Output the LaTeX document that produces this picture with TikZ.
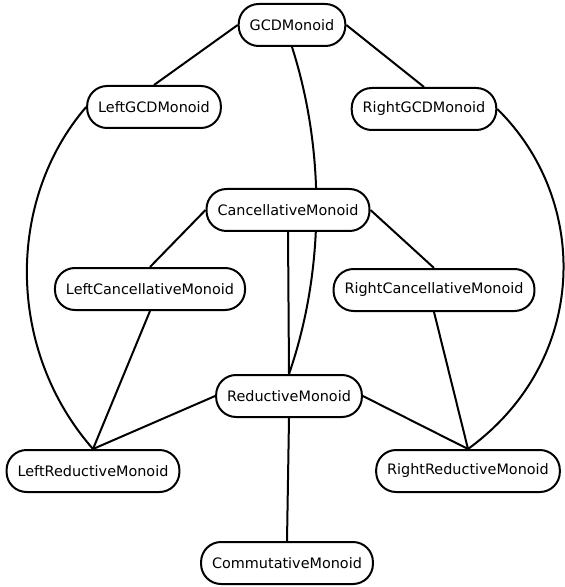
\documentclass[tikz,border=0pt]{standalone}
\usepackage{fontspec}
\setmainfont{DejaVu Sans}
\usepackage{tikz}
\usetikzlibrary{positioning, backgrounds}

\begin{document}
\begin{tikzpicture}[
      x=0.5pt, y=-0.5pt,
      monoid/.style={draw, line width=1pt, rectangle, rounded corners=10pt, minimum height=21pt,
        inner xsep=5.5pt, font=\fontsize{7.2}{9}\selectfont, fill=white},
      link/.style={line width=1pt}
    ]
      \useasboundingbox (0,0) rectangle (565,587);
      % nodes
      \node[monoid] (gcd)   at (292,25)  {GCDMonoid};
      \node[monoid] (lgcd)  at (154,107) {LeftGCDMonoid};
      \node[monoid] (rgcd)  at (424,109) {RightGCDMonoid};
      \node[monoid] (canc)  at (288,210) {CancellativeMonoid};
      \node[monoid] (lcanc) at (150,289) {LeftCancellativeMonoid};
      \node[monoid] (rcanc) at (434,290) {RightCancellativeMonoid};
      \node[monoid] (red)   at (289,396) {ReductiveMonoid};
      \node[monoid] (lred)  at (93,471)  {LeftReductiveMonoid};
      \node[monoid] (rred)  at (468,471) {RightReductiveMonoid};
      \node[monoid] (comm)  at (287,563) {CommutativeMonoid};
      % edges
      \begin{pgfonlayer}{background}
        \draw[link] (gcd.south) .. controls (325,150) and (325,270) .. (red.north);
      \end{pgfonlayer}
      \draw[link] (gcd.west) -- (lgcd.north);
      \draw[link] (gcd.east) -- (rgcd.north);
      \draw[link] (lgcd.west) .. controls (6,200) and (6,350) .. (lred.north);
      \draw[link] (rgcd.east) .. controls (590,200) and (590,360) .. (rred.north);
      \draw[link] (canc.west) -- (lcanc.north);
      \draw[link] (canc.east) -- (rcanc.north);
      \draw[link] (canc.south) -- (red.north);
      \draw[link] (lcanc.south) -- (lred.north);
      \draw[link] (rcanc.south) -- (rred.north);
      \draw[link] (red.west) -- (lred.north);
      \draw[link] (red.east) -- (rred.north);
      \draw[link] (red.south) -- (comm.north);
    \end{tikzpicture}
\end{document}
